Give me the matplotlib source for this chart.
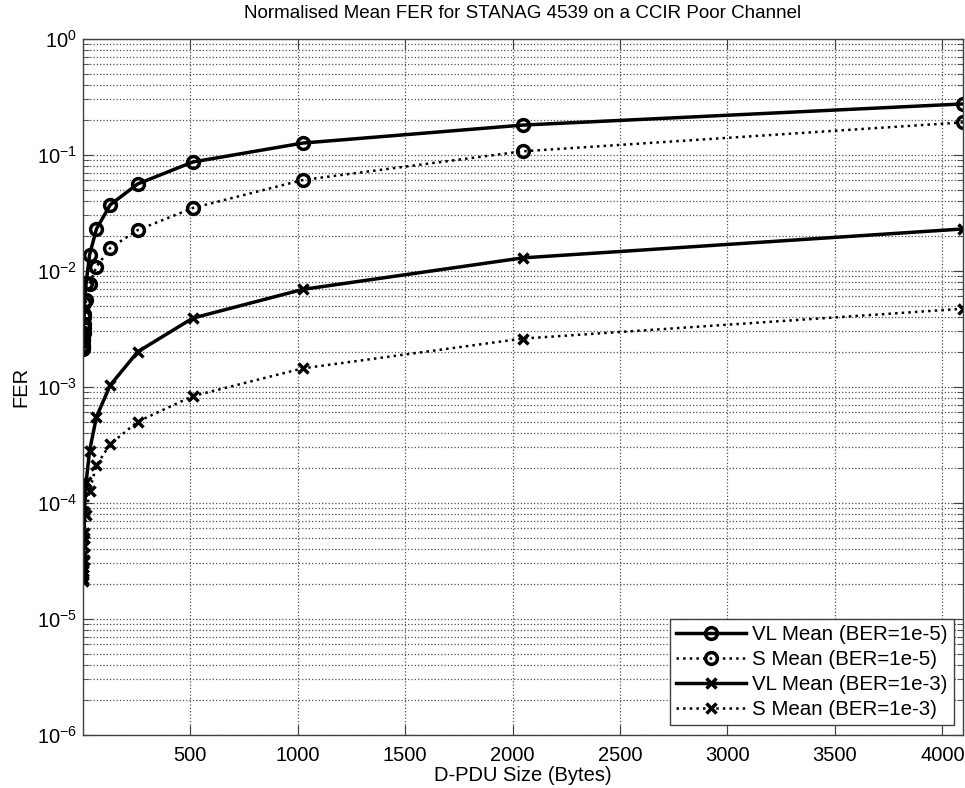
import matplotlib.pyplot as plt
import matplotlib.ticker as ticker

plt.rcParams['font.family'] = ['Liberation Sans', 'DejaVu Sans']
plt.rcParams['mathtext.fontset'] = 'custom'
plt.rcParams['mathtext.rm'] = 'Liberation Sans'
plt.rcParams['mathtext.it'] = 'Liberation Sans:italic'
plt.rcParams['mathtext.bf'] = 'Liberation Sans:bold'

# D-PDU sizes (bytes)
sizes = [1, 2, 3, 4, 6, 8, 16, 32, 64, 128, 256, 512, 1024, 2048, 4096]

# normalised mean FER per series
vl_ber5 = [0.0022, 0.0025, 0.0028, 0.0032, 0.0040, 0.0053, 0.0078, 0.0137,
           0.0229, 0.037, 0.056, 0.0865, 0.126, 0.18, 0.274]
s_ber5 = [0.0021, 0.0023, 0.0026, 0.0029, 0.0035, 0.0042, 0.0056, 0.0077,
          0.0108, 0.0157, 0.0224, 0.0347, 0.0605, 0.107, 0.19]
vl_ber3 = [2.2e-5, 2.6e-5, 3.1e-5, 3.6e-5, 5.0e-5, 8.3e-5, 1.5e-4, 2.8e-4,
           5.5e-4, 1.03e-3, 2.0e-3, 3.9e-3, 6.9e-3, 0.0129, 0.0229]
s_ber3 = [2.1e-5, 2.4e-5, 2.8e-5, 3.2e-5, 4.2e-5, 5.5e-5, 7.8e-5, 1.27e-4,
          2.1e-4, 3.2e-4, 5.0e-4, 8.3e-4, 1.44e-3, 2.6e-3, 4.7e-3]

labels = ['VL Mean (BER=1e-5)', 'S Mean (BER=1e-5)',
          'VL Mean (BER=1e-3)', 'S Mean (BER=1e-3)']
x_ticks = [500, 1000, 1500, 2000, 2500, 3000, 3500, 4000]
y_ticks = [1e-6, 1e-5, 1e-4, 1e-3, 1e-2, 1e-1, 1]

fig = plt.figure(figsize=(9.65, 7.88), dpi=100)
ax = fig.add_axes([0.0857, 0.0676, 0.9122, 0.8833])

ax.semilogy(sizes, vl_ber5, 'k-', marker='o', lw=2.5, ms=8.5, mew=2.5,
            mfc='none', label=labels[0])
ax.semilogy(sizes, s_ber5, 'k:', marker='o', lw=1.8, ms=8.5, mew=2.5,
            mfc='none', label=labels[1])
ax.semilogy(sizes, vl_ber3, 'k-', marker='x', lw=2.5, ms=7, mew=2.5,
            label=labels[2])
ax.semilogy(sizes, s_ber3, 'k:', marker='x', lw=1.8, ms=7, mew=2.5,
            label=labels[3])

ax.set_xlim(0, 4096)
ax.set_ylim(1e-6, 1)
ax.set_xticks(x_ticks)
ax.set_yticks(y_ticks)
ax.yaxis.set_minor_locator(ticker.LogLocator(base=10, subs=range(2, 10), numticks=20))
ax.yaxis.set_minor_formatter(ticker.NullFormatter())

ax.grid(True, which='major', axis='both', ls=':', lw=0.9, color='#505050')
ax.grid(True, which='minor', axis='y', ls=':', lw=0.9, color='#505050')

ax.tick_params(which='both', direction='in', top=True, right=True,
               labelsize=14.5, color='#404040')
ax.tick_params(which='major', length=7)
ax.tick_params(which='minor', length=4)
ax.tick_params(axis='x', pad=8)
ax.tick_params(axis='y', pad=4)
for sp in ax.spines.values():
    sp.set_color('#404040')
    sp.set_linewidth(1.0)

ax.set_title('Normalised Mean FER for STANAG 4539 on a CCIR Poor Channel',
             fontsize=13.5, pad=15)
ax.set_xlabel('D-PDU Size (Bytes)', fontsize=14.5, labelpad=1)
ax.set_ylabel('FER', fontsize=14.5, labelpad=5)

leg = ax.legend(loc='lower right', fontsize=14.8, fancybox=False,
                framealpha=1, edgecolor='#404040', borderaxespad=0.45,
                handlelength=3.4, handletextpad=0.3, labelspacing=0.3,
                borderpad=0.3)
leg.get_frame().set_linewidth(1.0)

fig.savefig('out.png', dpi=100)
